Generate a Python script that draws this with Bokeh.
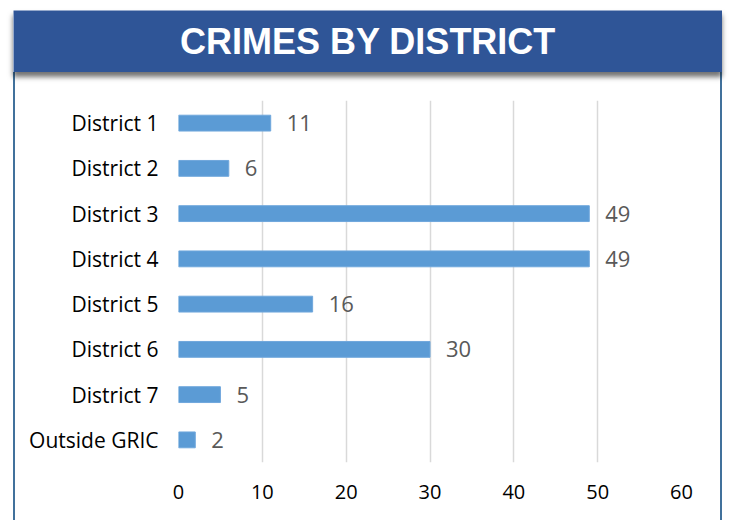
from bokeh.plotting import figure
from bokeh.layouts import column
from bokeh.models import ColumnDataSource, FixedTicker
from bokeh.embed import file_html
from bokeh.resources import INLINE
from bokeh.core.properties import value

categories = ["District 1", "District 2", "District 3", "District 4",
              "District 5", "District 6", "District 7", "Outside GRIC"]
counts = [11, 6, 49, 49, 16, 30, 5, 2]
x_ticks = [0, 10, 20, 30, 40, 50, 60]
title_text = "CRIMES BY DISTRICT"

src = ColumnDataSource(dict(cat=categories, val=counts, lbl=[str(v) for v in counts]))

# ---- banner ----
banner = figure(width=709, height=62, output_backend="svg", toolbar_location=None,
                x_range=(0, 1), y_range=(0, 1), min_border=0,
                margin=(10, 0, 0, 13), frame_align=False,
                styles={"box-shadow": "0px 5px 5px rgba(0,0,0,0.55)", "z-index": "2"})
banner.axis.visible = False
banner.grid.visible = False
banner.outline_line_color = None
banner.background_fill_color = "#2f5597"
banner.border_fill_color = "#2f5597"
banner.text(x=[0.5], y=[0.5], text=[title_text], text_align="center", text_baseline="middle",
            text_font=value("Liberation Sans"), text_font_style="bold",
            text_font_size="36px", text_color="white")

# ---- main chart ----
p = figure(width=709, height=448, output_backend="svg", toolbar_location=None,
           y_range=list(reversed(categories)), x_range=(0, 60),
           min_border_left=163, min_border_right=43, min_border_top=28, min_border_bottom=58,
           margin=(0, 0, 0, 13), frame_align=False,
           styles={"border-left": "2px solid #41719c", "border-right": "2px solid #41719c",
                   "box-sizing": "border-box", "z-index": "1"})
p.y_range.range_padding = 0
p.outline_line_color = None
p.background_fill_color = "white"
p.border_fill_color = "white"

p.hbar(y="cat", right="val", left=0, height=0.35, source=src,
       fill_color="#5b9bd5", line_color="#6fa7dc", line_width=1)
p.text(x="val", y="cat", text="lbl", source=src, x_offset=16,
       text_baseline="middle", text_align="left",
       text_font=value("Open Sans"), text_font_size="22px", text_color="#595959")

p.xaxis.ticker = FixedTicker(ticks=x_ticks)
p.xaxis.axis_line_color = None
p.xaxis.major_tick_line_color = None
p.xaxis.minor_tick_line_color = None
p.xaxis.major_label_standoff = 16
p.xaxis.major_label_text_font = "Open Sans"
p.xaxis.major_label_text_font_size = "20px"
p.xaxis.major_label_text_color = "#000000"

p.yaxis.axis_line_color = None
p.yaxis.major_tick_line_color = None
p.yaxis.minor_tick_line_color = None
p.yaxis.major_label_standoff = 14
p.yaxis.major_label_text_font = "Open Sans"
p.yaxis.major_label_text_font_size = "21px"
p.yaxis.major_label_text_color = "#000000"

p.ygrid.grid_line_color = None
p.xgrid.grid_line_color = "#d9d9d9"
p.xgrid.grid_line_width = 1.5

layout = column(banner, p, spacing=0)
open("out.html", "w").write(file_html(layout, INLINE))
